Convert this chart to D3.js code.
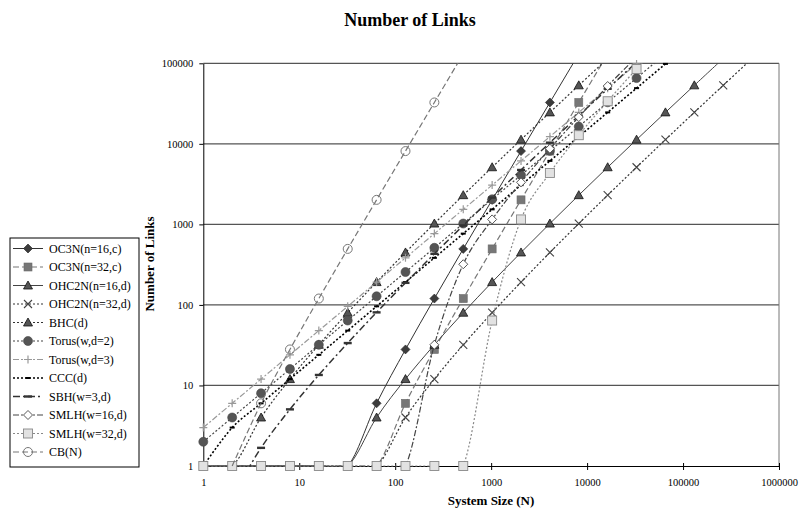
<!DOCTYPE html>
<html><head><meta charset="utf-8">
<script src="https://cdn.jsdelivr.net/npm/d3@7"></script>
<style>
body{margin:0;background:#fff}
svg{display:block}
text{font-family:"Liberation Serif","Times New Roman",serif;fill:#000}
</style>
</head><body>
<svg id="c" width="800" height="510"></svg>
<script>
// ---------- data ----------
const sizes = [1,2,4,8,16,32,64,128,256,512,1024,2048,4096,8192,16384,32768,65536,131072,262144,524288];
const seriesNames = ["OC3N(n=16,c)","OC3N(n=32,c)","OHC2N(n=16,d)","OHC2N(n=32,d)","BHC(d)","Torus(w,d=2)","Torus(w,d=3)","CCC(d)","SBH(w=3,d)","SMLH(w=16,d)","SMLH(w=32,d)","CB(N)"];
const oc3n16  = [1,1,1,1,1,1,6,28,120,496,2016,8128,32640,130816,null,null,null,null,null,null];
const oc3n32  = [1,1,1,1,1,1,1,6,28,120,496,2016,8128,32640,130816,null,null,null,null,null];
const ohc2n16 = [1,1,1,1,1,1,4,12,32,80,192,448,1024,2304,5120,11264,24576,53248,114688,null];
const ohc2n32 = [1,1,1,1,1,1,1,4,12,32,80,192,448,1024,2304,5120,11264,24576,53248,114688];
const bhc     = [1,1,4,12,32,80,192,448,1024,2304,5120,11264,24576,53248,114688,null,null,null,null,null];
const torus2  = [2,4,8,16,32,64,128,256,512,1024,2048,4096,8192,16384,32768,65536,131072,null,null,null];
const torus3  = [3,6,12,24,48,96,192,384,768,1536,3072,6144,12288,24576,49152,98304,196608,null,null,null];
const ccc     = [1,3,6,12,24,48,96,192,384,768,1536,3072,6144,12288,24576,49152,98304,196608,null,null];
const sbh     = [null,0.42,1.68,5.05,13.5,33.6,80.8,188,431,969,2153,4738,10337,22397,48233,103370,null,null,null,null];
const smlh16  = [1,1,1,1,1,1,1,1,32,320,1152,3328,8704,21504,52224,120000,null,null,null,null];
const smlh32  = [1,1,1,1,1,1,1,1,1,1,64,1152,4352,12800,33792,84992,200000,null,null,null];
const cb      = [null,1,6,28,120,496,2016,8128,32640,130816,null,null,null,null,null,null,null,null,null,null];
const xTicks = [1,10,100,1000,10000,100000,1000000];
const yTicks = [1,10,100,1000,10000,100000];

const seriesValues = [oc3n16,oc3n32,ohc2n16,ohc2n32,bhc,torus2,torus3,ccc,sbh,smlh16,smlh32,cb];

// ---------- styles ----------
const styles = [
  {stroke:"#333", dash:null,      w:1,   marker:"diamond"},
  {stroke:"#777", dash:"6,3",     w:1.2, marker:"square"},
  {stroke:"#444", dash:null,      w:1,   marker:"triangle"},
  {stroke:"#333", dash:"2,2",     w:1.2, marker:"x"},
  {stroke:"#333", dash:"2,2",     w:1.2, marker:"triangle"},
  {stroke:"#444", dash:"2,2",     w:1.2, marker:"circle"},
  {stroke:"#999", dash:"6,2,2,2", w:1.2, marker:"plus"},
  {stroke:"#000", dash:"2,2",     w:1.6, marker:"dashS"},
  {stroke:"#333", dash:"7,3,2,3", w:1.5, marker:"dashL"},
  {stroke:"#444", dash:"6,2,2,2", w:1.2, marker:"odiamond"},
  {stroke:"#888", dash:"2,2",     w:1.2, marker:"lsquare"},
  {stroke:"#777", dash:"6,3",     w:1.2, marker:"ocircle"}
];

const svg = d3.select("#c");
const X0 = 203.3, X1 = 779, Y0 = 466, Y1 = 63.3;
const x = d3.scaleLog().domain([1,1e6]).range([X0,X1]);
const y = d3.scaleLog().domain([1,1e5]).range([Y0,Y1]);

function drawMarker(g, type, cx, cy){
  const s = g.append("g").attr("transform",`translate(${cx},${cy})`);
  switch(type){
    case "diamond": s.append("path").attr("d","M0,-4.5L4.5,0L0,4.5L-4.5,0Z").attr("fill","#3c3c3c").attr("stroke","#222").attr("stroke-width",0.6); break;
    case "square": s.append("rect").attr("x",-4).attr("y",-4).attr("width",8).attr("height",8).attr("fill","#777").attr("stroke","#6a6a6a").attr("stroke-width",0.6); break;
    case "triangle": s.append("path").attr("d","M0,-4.5L4.5,3.5L-4.5,3.5Z").attr("fill","#555").attr("stroke","#111").attr("stroke-width",0.8); break;
    case "x": s.append("path").attr("d","M-4,-4L4,4M-4,4L4,-4").attr("stroke","#444").attr("stroke-width",1.1).attr("fill","none"); break;
    case "circle": s.append("circle").attr("r",4.5).attr("fill","#555").attr("stroke","#444").attr("stroke-width",0.6); break;
    case "plus": s.append("path").attr("d","M-4,0L4,0M0,-4L0,4").attr("stroke","#999").attr("stroke-width",1.2).attr("fill","none"); break;
    case "dashS": s.append("rect").attr("x",-2.5).attr("y",-1).attr("width",5).attr("height",2).attr("fill","#000"); break;
    case "dashL": s.append("rect").attr("x",-4).attr("y",-1.2).attr("width",8).attr("height",2.4).attr("fill","#333"); break;
    case "odiamond": s.append("path").attr("d","M0,-4.5L4.5,0L0,4.5L-4.5,0Z").attr("fill","#fff").attr("stroke","#444").attr("stroke-width",0.9); break;
    case "lsquare": s.append("rect").attr("x",-4.5).attr("y",-4.5).attr("width",9).attr("height",9).attr("fill","#e2e2e2").attr("stroke","#888").attr("stroke-width",0.9); break;
    case "ocircle": s.append("circle").attr("r",4.5).attr("fill","none").attr("stroke","#777").attr("stroke-width",1); break;
  }
}

// clip
svg.append("defs").append("clipPath").attr("id","plotclip")
  .append("rect").attr("x",X0).attr("y",Y1).attr("width",X1-X0).attr("height",Y0-Y1+1);

// gridlines
svg.append("g").selectAll("line").data(yTicks.filter(d=>d>1)).join("line")
  .attr("x1",X0).attr("x2",X1).attr("y1",d=>y(d)).attr("y2",d=>y(d))
  .attr("stroke","#555").attr("stroke-width",1.2);
// right border
svg.append("line").attr("x1",X1).attr("x2",X1).attr("y1",Y1).attr("y2",Y0).attr("stroke","#777").attr("stroke-width",1);

// axes
const yAxis = svg.append("g").attr("transform",`translate(${X0},0)`)
  .call(d3.axisLeft(y).tickValues(yTicks).tickFormat(d3.format("d")).tickSizeInner(4).tickSizeOuter(0).tickPadding(6));
yAxis.select(".domain").attr("stroke","#000");
yAxis.selectAll(".tick line").attr("stroke","#000");
yAxis.selectAll("text").style("font-size","10.5px").style("font-family","'Liberation Serif',serif");

const xAxis = svg.append("g").attr("transform",`translate(0,${Y0})`)
  .call(d3.axisBottom(x).tickValues(xTicks).tickFormat(d3.format("d")).tickSizeInner(4).tickSizeOuter(0).tickPadding(9));
xAxis.select(".domain").attr("stroke","#000").attr("stroke-width",1.2);
xAxis.selectAll(".tick line").attr("stroke","#000").attr("y1",-3);
xAxis.selectAll("text").style("font-size","10.5px").style("font-family","'Liberation Serif',serif");

// series
const plot = svg.append("g");
const lineGen = d3.line()
  .defined(d=>d.v!=null)
  .x(d=>x(d.n)).y(d=>y(d.v))
  .curve(d3.curveCatmullRom.alpha(0));

seriesValues.forEach((vals,i)=>{
  const st = styles[i];
  const pts = sizes.map((n,j)=>({n:n,v:vals[j]}));
  plot.append("path").datum(pts)
    .attr("clip-path","url(#plotclip)")
    .attr("d",lineGen)
    .attr("fill","none")
    .attr("stroke",st.stroke)
    .attr("stroke-width",st.w)
    .attr("stroke-dasharray",st.dash);
  const mg = plot.append("g");
  pts.filter(p=>p.v!=null && p.v<=1e5 && (p.v>1 || st.marker==="lsquare"))
    .forEach(p=>drawMarker(mg, st.marker, x(p.n), y(p.v)));
});

// titles
svg.append("text").attr("x",410).attr("y",26).attr("text-anchor","middle")
  .style("font-size","18px").style("font-weight","bold").text("Number of Links");
svg.append("text").attr("x",491).attr("y",505).attr("text-anchor","middle")
  .style("font-size","13px").style("font-weight","bold").text("System Size (N)");
svg.append("text").attr("transform","translate(154,264) rotate(-90)").attr("text-anchor","middle")
  .style("font-size","13px").style("font-weight","bold").text("Number of Links");

// legend
const lg = svg.append("g");
lg.append("rect").attr("x",10).attr("y",238).attr("width",129).attr("height",229)
  .attr("fill","#fff").attr("stroke","#000").attr("stroke-width",1);
seriesNames.forEach((name,i)=>{
  const st = styles[i];
  const cy = 248.5 + i*18.5;
  lg.append("line").attr("x1",13).attr("x2",43).attr("y1",cy).attr("y2",cy)
    .attr("stroke",st.stroke).attr("stroke-width",st.w).attr("stroke-dasharray",st.dash);
  drawMarker(lg, st.marker, 28, cy);
  lg.append("text").attr("x",49).attr("y",cy+4).style("font-size","12px").text(name);
});
</script>
</body></html>
